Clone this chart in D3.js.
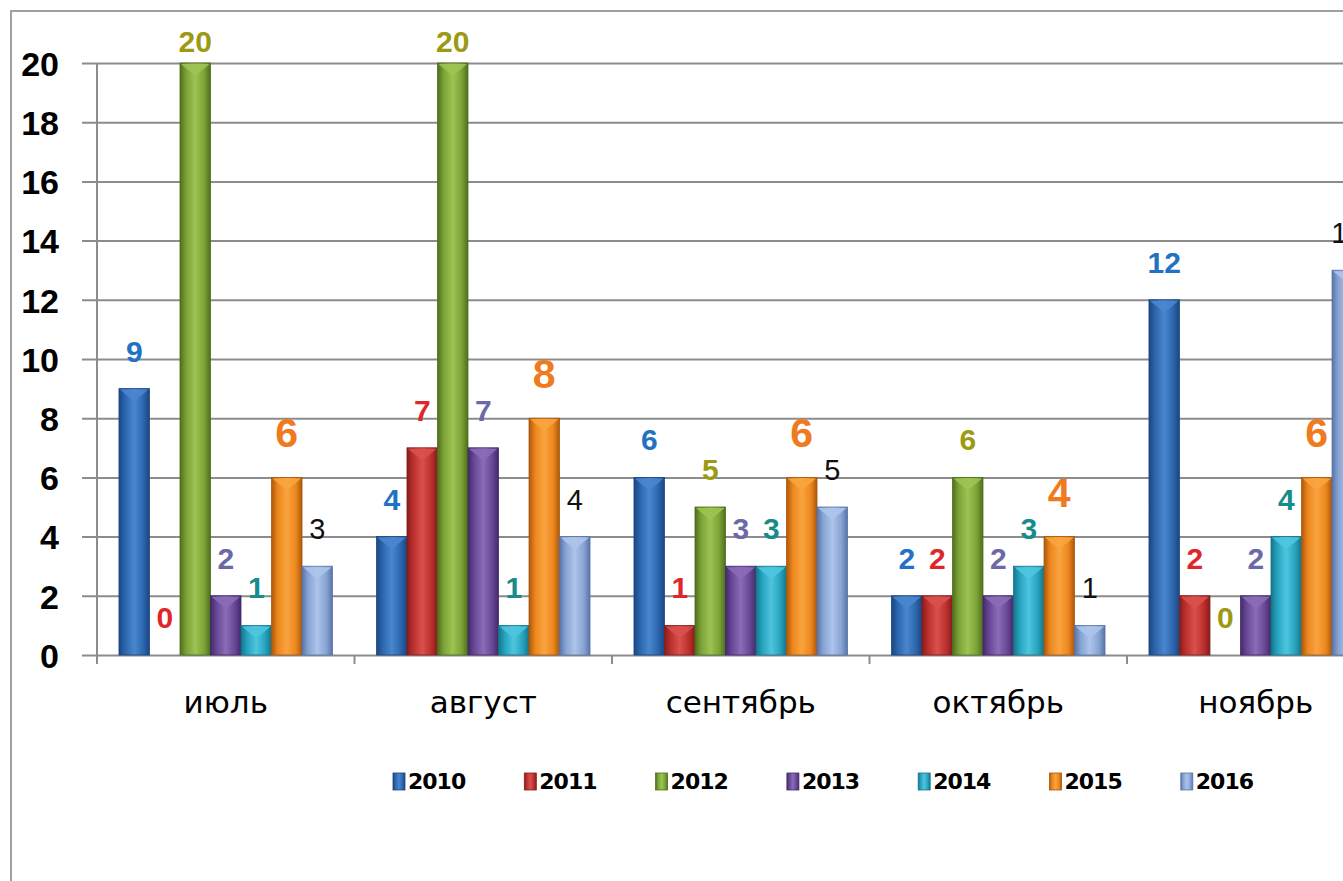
<!DOCTYPE html>
<html>
<head>
<meta charset="utf-8">
<script src="https://cdn.jsdelivr.net/npm/d3@7"></script>
<style>
  body { margin: 0; background: #fff; }
  svg { display: block; }
</style>
</head>
<body>
<svg id="chart" width="1343" height="881"></svg>
<script>
// months and years
const categories = ['июль', 'август', 'сентябрь', 'октябрь', 'ноябрь'];
const years = ['2010', '2011', '2012', '2013', '2014', '2015', '2016'];

// one array per year, in month order
const v2010 = [9, 4, 6, 2, 12];
const v2011 = [0, 7, 1, 2, 2];
const v2012 = [20, 20, 5, 6, 0];
const v2013 = [2, 7, 3, 2, 2];
const v2014 = [1, 1, 3, 3, 4];
const v2015 = [6, 8, 6, 4, 6];
const v2016 = [3, 4, 5, 1, 13];

const yTicks = [0, 2, 4, 6, 8, 10, 12, 14, 16, 18, 20];

const seriesValues = [v2010, v2011, v2012, v2013, v2014, v2015, v2016];

// bar colours: dark edge, body, light centre
const barColors = [
    ['#1b4682', '#2b66ad', '#4a86cf'],
    ['#861c1c', '#bb302d', '#d9504d'],
    ['#4f6e1c', '#7aa236', '#9cc453'],
    ['#432a69', '#684796', '#8a6cb7'],
    ['#157589', '#26a2be', '#4ec5df'],
    ['#ab580c', '#ec861c', '#f9a43f'],
    ['#5874a8', '#86a3d3', '#adc4ea']
];
const labelColors = ['#2271c3', '#e0262b', '#9c9a12', '#6d68a8', '#1a8b8d', '#f07a1e', '#111'];

const svg = d3.select('#chart');
const defs = svg.append('defs');

const plotLeft = 97, plotTop = 63, plotBottom = 655;
const bandW = 257.5;

const x = d3.scaleBand()
    .domain(categories)
    .range([plotLeft, plotLeft + bandW * categories.length]);

const xs = d3.scaleBand()
    .domain(years)
    .range([0, x.bandwidth()])
    .paddingOuter(0.72);

const y = d3.scaleLinear()
    .domain([0, 20])
    .range([plotBottom, plotTop]);

// outer frame
svg.append('path')
    .attr('d', 'M11,900V11H1360')
    .attr('fill', 'none')
    .attr('stroke', '#a0a0a0')
    .attr('stroke-width', 2);

// gridlines + tick labels
const yAxis = svg.append('g')
    .attr('transform', 'translate(82,0)')
    .call(d3.axisLeft(y)
        .tickValues(yTicks)
        .tickSize(-(bandW * categories.length + 30))
        .tickPadding(23));
yAxis.select('.domain').remove();
yAxis.selectAll('.tick line')
    .attr('stroke', '#8c8c8c')
    .attr('stroke-width', 2);
yAxis.selectAll('.tick text')
    .attr('fill', '#000')
    .style('font', 'bold 34px "Liberation Sans", Arial, sans-serif')
    .attr('dy', '0.36em');

// vertical axis line
svg.append('line')
    .attr('x1', plotLeft).attr('x2', plotLeft)
    .attr('y1', plotTop).attr('y2', plotBottom + 9)
    .attr('stroke', '#8c8c8c')
    .attr('stroke-width', 2);

// category ticks
svg.append('g').selectAll('line')
    .data(categories.map(function (c) { return x(c) + x.bandwidth(); }))
    .join('line')
    .attr('x1', function (d) { return d; })
    .attr('x2', function (d) { return d; })
    .attr('y1', plotBottom)
    .attr('y2', plotBottom + 9)
    .attr('stroke', '#8c8c8c')
    .attr('stroke-width', 2);

// gradients per series
years.forEach(function (yr, i) {
    const c = barColors[i];
    const g = defs.append('linearGradient')
        .attr('id', 'grad' + yr)
        .attr('x1', '0').attr('x2', '1').attr('y1', '0').attr('y2', '0');
    g.append('stop').attr('offset', '0').attr('stop-color', c[0]);
    g.append('stop').attr('offset', '0.2').attr('stop-color', c[1]);
    g.append('stop').attr('offset', '0.5').attr('stop-color', c[2]);
    g.append('stop').attr('offset', '0.8').attr('stop-color', c[1]);
    g.append('stop').attr('offset', '1').attr('stop-color', c[0]);
});

// flatten data for drawing
const bars = [];
categories.forEach(function (cat, ci) {
    years.forEach(function (yr, si) {
        bars.push({ cat: cat, year: yr, si: si, value: seriesValues[si][ci] });
    });
});

const barG = svg.append('g');

barG.selectAll('rect.bar')
    .data(bars.filter(function (d) { return d.value > 0; }))
    .join('rect')
    .attr('class', 'bar')
    .attr('x', function (d) { return x(d.cat) + xs(d.year); })
    .attr('y', function (d) { return y(d.value); })
    .attr('width', xs.bandwidth())
    .attr('height', function (d) { return plotBottom - y(d.value); })
    .attr('fill', function (d) { return 'url(#grad' + d.year + ')'; })
    .attr('stroke', function (d) { return barColors[d.si][0]; })
    .attr('stroke-width', 0.8);

// light bevel at the top of each bar
barG.selectAll('path.cap')
    .data(bars.filter(function (d) { return d.value > 0; }))
    .join('path')
    .attr('class', 'cap')
    .attr('d', function (d) {
        const x0 = x(d.cat) + xs(d.year) + 1, x1 = x0 + xs.bandwidth() - 2;
        const t = y(d.value) + 1;
        return 'M' + x0 + ',' + t + 'L' + x1 + ',' + t + 'L' + (x0 + x1) / 2 + ',' + (t + 12) + 'Z';
    })
    .attr('fill', function (d) { return barColors[d.si][2]; })
    .attr('opacity', 0.9);

// value labels
svg.append('g').selectAll('text')
    .data(bars)
    .join('text')
    .attr('x', function (d) { return x(d.cat) + xs(d.year) + xs.bandwidth() / 2; })
    .attr('y', function (d) {
        const off = d.si === 5 ? 30 : 27;
        return Math.max(y(d.value) - off, 52);
    })
    .attr('text-anchor', 'middle')
    .attr('fill', function (d) { return labelColors[d.si]; })
    .style('font-family', '"Liberation Sans", Arial, sans-serif')
    .style('font-weight', function (d) { return d.si === 6 ? 'normal' : 'bold'; })
    .style('font-size', function (d) {
        if (d.si === 5) return '41px';
        if (d.si === 6) return '29px';
        return '30px';
    })
    .text(function (d) { return d.value; });

// category labels
svg.append('g').selectAll('text')
    .data(categories)
    .join('text')
    .attr('x', function (d) { return x(d) + x.bandwidth() / 2; })
    .attr('y', 713)
    .attr('text-anchor', 'middle')
    .attr('fill', '#000')
    .style('font', '31px "DejaVu Sans", sans-serif')
    .text(function (d) { return d; });

// legend
const legend = svg.append('g').selectAll('g')
    .data(years)
    .join('g')
    .attr('transform', function (d, i) { return 'translate(' + (393 + i * 131.3) + ',773)'; });
legend.append('rect')
    .attr('width', 12).attr('height', 17)
    .attr('fill', function (d) { return 'url(#grad' + d + ')'; })
    .attr('stroke', function (d, i) { return barColors[i][0]; })
    .attr('stroke-width', 0.8);
legend.append('text')
    .attr('x', 15)
    .attr('y', 16)
    .attr('fill', '#000')
    .style('font', 'bold 22px "DejaVu Sans", sans-serif')
    .style('letter-spacing', '-1px')
    .text(function (d) { return d; });
</script>
</body>
</html>
